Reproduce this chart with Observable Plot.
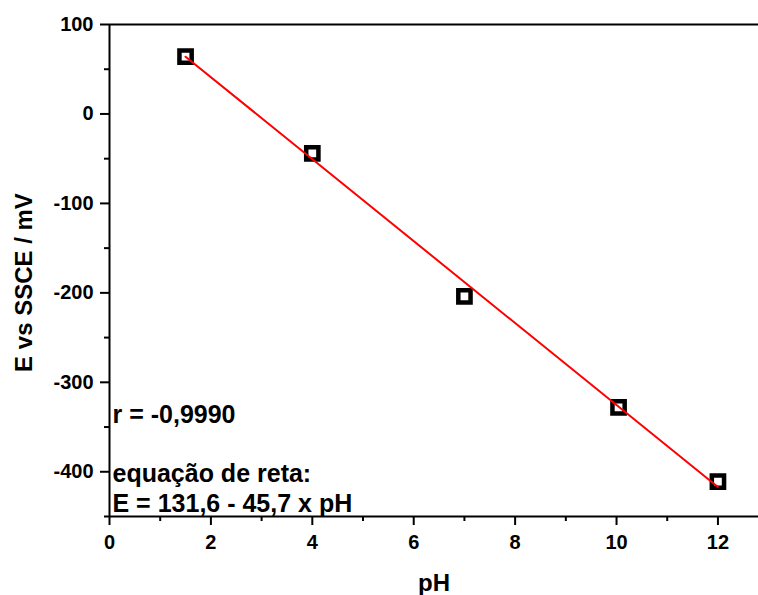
<!DOCTYPE html>
<html>
<head>
<meta charset="utf-8">
<script src="https://cdn.jsdelivr.net/npm/d3@7"></script>
<script src="https://cdn.jsdelivr.net/npm/@observablehq/plot@0.6"></script>
<style>
  html, body { margin: 0; padding: 0; background: #fff; overflow: hidden; }
  #chart svg { display: block; }
</style>
</head>
<body>
<div id="chart"></div>
<script>
// ---- data ----
const pH = [1.5, 4.0, 7.0, 10.04, 12.0];
const E = [64, -44, -204, -328, -411];
const fitPH = [1.5, 12.0];
const fitE = [64, -417];

const xTicks = [0, 2, 4, 6, 8, 10, 12];
const xMinorTicks = [1, 3, 5, 7, 9, 11];
const yTicks = [-400, -300, -200, -100, 0, 100];
const yMinorTicks = [-450, -350, -250, -150, -50, 50];

const xTitle = "pH";
const yTitle = "E vs SSCE / mV";
const rText = "r = -0,9990";
const eqText = ["equação de reta:", "E = 131,6 - 45,7 x pH"];

// ---- build tables ----
const points = pH.map((x, i) => ({x, y: E[i]}));
const fit = fitPH.map((x, i) => ({x, y: fitE[i]}));

const font = "'Liberation Sans', Arial, Helvetica, sans-serif";

const chart = Plot.plot({
  width: 758,
  height: 595,
  marginLeft: 109,
  marginRight: 0,
  marginTop: 24,
  marginBottom: 79,
  style: {fontFamily: font, fontWeight: "bold", fontSize: "20px", color: "#000", background: "#fff"},
  x: {domain: [0, 12.8]},
  y: {domain: [-450, 100]},
  marks: [
    // axis lines
    Plot.ruleX([0], {stroke: "#000", strokeWidth: 2}),
    Plot.ruleY([-450], {stroke: "#000", strokeWidth: 2}),
    Plot.ruleY([100], {stroke: "#000", strokeWidth: 2}),
    // major ticks
    Plot.axisX({ticks: xTicks, tickSize: 9, strokeWidth: 2, text: null, label: null}),
    Plot.axisY({ticks: yTicks, tickSize: 9, strokeWidth: 2, text: null, label: null}),
    // minor ticks
    Plot.axisX({ticks: xMinorTicks, tickSize: 5, strokeWidth: 2, text: null, label: null}),
    Plot.axisY({ticks: yMinorTicks, tickSize: 5, strokeWidth: 2, text: null, label: null}),
    // tick labels
    Plot.text(xTicks, {x: d => d, frameAnchor: "bottom", dy: 26, lineAnchor: "middle", textAnchor: "middle", text: d => String(d), fontSize: 20, fontWeight: "bold", fill: "#000"}),
    Plot.text(yTicks, {y: d => d, frameAnchor: "left", dx: -16, textAnchor: "end", lineAnchor: "middle", text: d => String(d), fontSize: 20, fontWeight: "bold", fill: "#000"}),
    // data
    Plot.dot(points, {x: "x", y: "y", symbol: "square", r: 6.9, stroke: "#000", strokeWidth: 4.5, fill: "#fff"}),
    Plot.line(fit, {x: "x", y: "y", stroke: "#ff0000", strokeWidth: 2}),
    // annotations
    Plot.text([rText], {frameAnchor: "bottom-left", dx: 3, dy: -94, textAnchor: "start", lineAnchor: "bottom", fontSize: 25, fontWeight: "bold", fill: "#000"}),
    Plot.text([eqText.join("\n")], {frameAnchor: "bottom-left", dx: 3, dy: -5, textAnchor: "start", lineAnchor: "bottom", lineHeight: 1.2, fontSize: 25, fontWeight: "bold", fill: "#000"}),
    // axis titles
    Plot.text([xTitle], {frameAnchor: "bottom", dy: 67, textAnchor: "middle", lineAnchor: "middle", fontSize: 24, fontWeight: "bold", fill: "#000"}),
    Plot.text([yTitle], {frameAnchor: "left", rotate: -90, dx: -85, dy: 12, textAnchor: "middle", lineAnchor: "middle", fontSize: 24, fontWeight: "bold", fill: "#000"})
  ]
});
document.getElementById("chart").appendChild(chart);
</script>
</body>
</html>
